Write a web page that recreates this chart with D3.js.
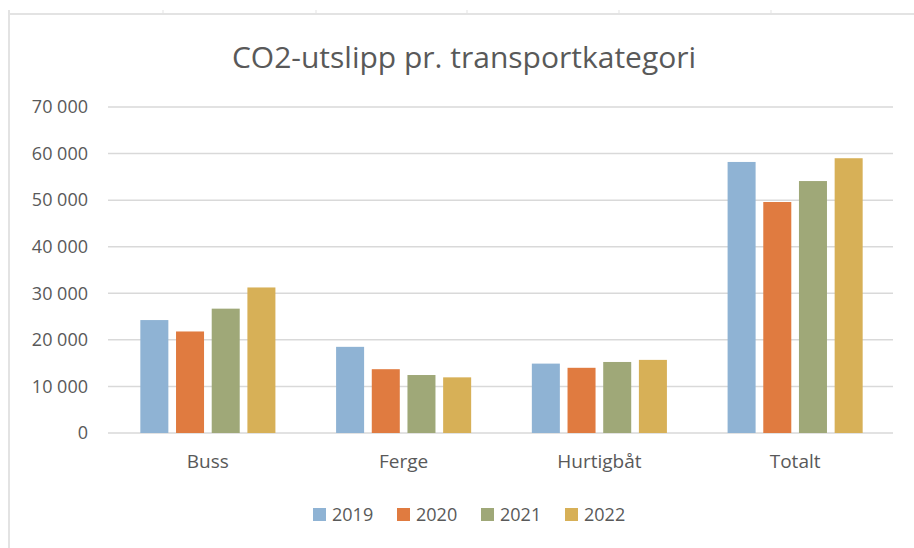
<!doctype html>
<html lang="no">
<head>
<meta charset="utf-8">
<title>CO2-utslipp pr. transportkategori</title>
<script src="https://d3js.org/d3.v7.min.js"></script>
<style>
  body { margin: 0; background: #fff; }
  svg { display: block; font-family: "Open Sans", "Noto Sans", sans-serif; }
</style>
</head>
<body>
<svg id="chart" width="914" height="548"></svg>
<script>
// data
const categories = ["Buss", "Ferge", "Hurtigbåt", "Totalt"];
const years = ["2019", "2020", "2021", "2022"];
const v2019 = [24250, 18500, 14900, 58200];
const v2020 = [21800, 13700, 14000, 49600];
const v2021 = [26700, 12450, 15250, 54100];
const v2022 = [31250, 11950, 15700, 59000];
const yTicks = [0, 10000, 20000, 30000, 40000, 50000, 60000, 70000];
const colors = ["#8fb3d4", "#e07b40", "#9fa878", "#d7b057"];

const series = [v2019, v2020, v2021, v2022];
const textColor = "#595959";

const svg = d3.select("#chart");

// sheet-like frame behind the chart
const frame = svg.append("g").attr("stroke", "#e3e3e3");
frame.append("line").attr("x1", 9).attr("x2", 914).attr("y1", 14).attr("y2", 14).attr("stroke-width", 2);
frame.append("line").attr("x1", 9).attr("x2", 9).attr("y1", 10).attr("y2", 548).attr("stroke-width", 2);
[163, 316, 467, 619, 771].forEach(x => {
  frame.append("line").attr("x1", x).attr("x2", x).attr("y1", 10).attr("y2", 14).attr("stroke-width", 1);
});

const margin = {left: 110, right: 21, top: 107, bottom: 115};
const width = 914 - margin.left - margin.right,
      height = 548 - margin.top - margin.bottom;

const g = svg.append("g").attr("transform", `translate(${margin.left},${margin.top})`);

const x0 = d3.scaleBand().domain(categories).range([0, width]).paddingInner(0.31).paddingOuter(0.155);
const x1 = d3.scaleBand().domain(years).range([0, x0.bandwidth()]).paddingInner(0.215).paddingOuter(0);
const y = d3.scaleLinear().domain([0, 70000]).range([height, 0]);

// grid
g.append("g")
  .selectAll("line")
  .data(yTicks)
  .join("line")
  .attr("x1", -2).attr("x2", width)
  .attr("y1", d => y(d)).attr("y2", d => y(d))
  .attr("stroke", "#d9d9d9")
  .attr("stroke-width", 1.5);

// y axis labels
const fmt = d => d3.format(",")(d).replace(/,/g, "\u00a0");
g.append("g")
  .selectAll("text")
  .data(yTicks)
  .join("text")
  .attr("x", -22)
  .attr("y", d => y(d))
  .attr("dy", "0.35em")
  .attr("text-anchor", "end")
  .attr("fill", textColor)
  .style("font-size", "18px")
  .text(fmt);

// bars
const groups = g.append("g")
  .selectAll("g")
  .data(categories)
  .join("g")
  .attr("transform", d => `translate(${x0(d)},0)`);

groups.selectAll("rect")
  .data((c, i) => years.map((yr, j) => ({year: yr, value: series[j][i], color: colors[j]})))
  .join("rect")
  .attr("x", d => x1(d.year))
  .attr("y", d => y(d.value))
  .attr("width", x1.bandwidth())
  .attr("height", d => y(0) - y(d.value))
  .attr("fill", d => d.color);

// category labels
g.append("g")
  .selectAll("text")
  .data(categories)
  .join("text")
  .attr("x", d => x0(d) + x0.bandwidth() / 2)
  .attr("y", height + 35)
  .attr("text-anchor", "middle")
  .attr("fill", textColor)
  .style("font-size", "19px")
  .text(d => d);

// title
svg.append("text")
  .attr("x", 464)
  .attr("y", 68)
  .attr("text-anchor", "middle")
  .attr("fill", textColor)
  .style("font-size", "30px")
  .text("CO2-utslipp pr. transportkategori");

// legend
const legend = svg.append("g")
  .selectAll("g")
  .data(years)
  .join("g")
  .attr("transform", (d, i) => `translate(${313 + i * 84},515)`);

legend.append("rect")
  .attr("x", 0).attr("y", -7)
  .attr("width", 13).attr("height", 13)
  .attr("fill", (d, i) => colors[i]);

legend.append("text")
  .attr("x", 19)
  .attr("y", 0)
  .attr("dy", "0.35em")
  .attr("fill", textColor)
  .style("font-size", "18px")
  .text(d => d);
</script>
</body>
</html>
